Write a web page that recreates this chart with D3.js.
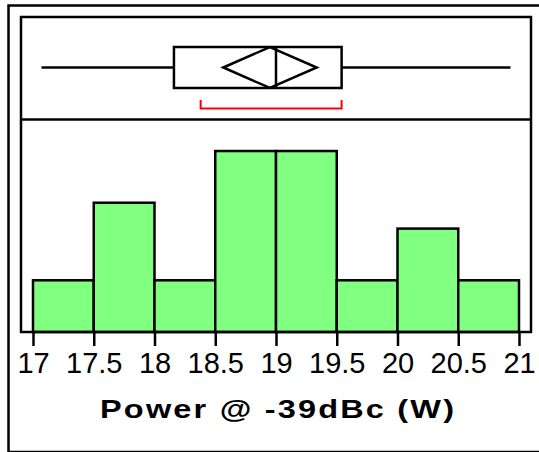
<!DOCTYPE html>
<html>
<head>
<meta charset="utf-8">
<script src="https://cdn.jsdelivr.net/npm/d3@7"></script>
<style>
  html, body { margin: 0; padding: 0; background: #fff; }
  svg { display: block; }
  text { font-family: "Liberation Sans", Arial, sans-serif; fill: #000; }
</style>
</head>
<body>
<svg id="chart" width="539" height="452"></svg>
<script>
// ---- data ----
const binEdges = [17, 17.5, 18, 18.5, 19, 19.5, 20, 20.5, 21];
const counts = [2, 5, 2, 7, 7, 2, 4, 2];
const tickValues = [17, 17.5, 18, 18.5, 19, 19.5, 20, 20.5, 21];
const tickLabels = ["17", "17.5", "18", "18.5", "19", "19.5", "20", "20.5", "21"];
const whiskerRange = [17.07, 20.93];
const quartiles = [18.16, 19.0, 19.54]; // Q1, median, Q3
const meanValue = [18.95];
const meanCI = [18.566, 19.335];
const shortestHalf = [18.38, 19.54];
const xTitle = "Power @ -39dBc (W)";

// ---- layout ----
const svg = d3.select("#chart");
const frame = { left: 21, top: 17, right: 531, bottom: 332, divider: 119.5 };

const x = d3.scaleLinear().domain([17, 21]).range([33, 519]);
const y = d3.scaleLinear().domain([0, 8.2]).range([332, 120]);
const yBox = d3.scaleLinear().domain([0, 1]).range([88, 47]); // box band

// outer frame
svg.append("rect")
  .attr("x", 8.5).attr("y", 5.5)
  .attr("width", 560).attr("height", 446.5)
  .attr("fill", "none").attr("stroke", "#000").attr("stroke-width", 2.5);

// histogram bars
const bins = counts.map((c, i) => ({ x0: binEdges[i], x1: binEdges[i + 1], c }));
svg.append("g").selectAll("rect").data(bins).join("rect")
  .attr("x", d => x(d.x0))
  .attr("y", d => y(d.c))
  .attr("width", d => x(d.x1) - x(d.x0))
  .attr("height", d => y(0) - y(d.c))
  .attr("fill", "#80ff80")
  .attr("stroke", "#000")
  .attr("stroke-width", 2.5);

// inner frame
svg.append("rect")
  .attr("x", frame.left).attr("y", frame.top)
  .attr("width", frame.right - frame.left).attr("height", frame.bottom - frame.top)
  .attr("fill", "none").attr("stroke", "#000").attr("stroke-width", 2.5);
svg.append("line")
  .attr("x1", frame.left).attr("x2", frame.right)
  .attr("y1", frame.divider).attr("y2", frame.divider)
  .attr("stroke", "#000").attr("stroke-width", 2.5);

// x axis
const axis = d3.axisBottom(x)
  .tickValues(tickValues)
  .tickFormat((d, i) => tickLabels[i])
  .tickSize(14)
  .tickSizeOuter(0)
  .tickPadding(6);
const gx = svg.append("g").attr("transform", `translate(0,${frame.bottom})`).call(axis);
gx.select(".domain").remove();
gx.selectAll(".tick line").attr("stroke", "#000").attr("stroke-width", 2.5);
gx.selectAll(".tick text")
  .attr("font-size", 29)
  .attr("font-family", "Liberation Sans, Arial, sans-serif")
  .attr("fill", "#000");

// axis title (horizontally stretched bold face)
const stretch = 1.3;
svg.append("g")
  .attr("transform", `translate(277,418) scale(${stretch},1)`)
  .append("text")
  .attr("x", 0).attr("y", 0)
  .attr("text-anchor", "middle")
  .attr("font-size", 25)
  .attr("font-weight", "bold")
  .attr("textLength", 354 / stretch)
  .attr("lengthAdjust", "spacing")
  .text(xTitle);

// ---- box plot ----
const bp = svg.append("g").attr("stroke", "#000").attr("stroke-width", 2.5).attr("fill", "none");
const midY = yBox(0.5);
// whiskers
bp.append("line").attr("x1", x(whiskerRange[0])).attr("x2", x(quartiles[0])).attr("y1", midY).attr("y2", midY);
bp.append("line").attr("x1", x(quartiles[2])).attr("x2", x(whiskerRange[1])).attr("y1", midY).attr("y2", midY);
// box
bp.append("rect")
  .attr("x", x(quartiles[0])).attr("y", yBox(1))
  .attr("width", x(quartiles[2]) - x(quartiles[0]))
  .attr("height", yBox(0) - yBox(1));
// median
bp.append("line").attr("x1", x(quartiles[1])).attr("x2", x(quartiles[1])).attr("y1", yBox(1)).attr("y2", yBox(0));
// mean diamond
const diamond = [
  [x(meanCI[0]), midY],
  [x(meanValue[0]), yBox(1)],
  [x(meanCI[1]), midY],
  [x(meanValue[0]), yBox(0)]
];
bp.append("path").attr("d", d3.line()(diamond) + "Z").attr("stroke-linejoin", "miter");

// shortest half bracket (red)
const shY = 108.5;
const sh = svg.append("g").attr("stroke", "#ff0000").attr("stroke-width", 2).attr("fill", "none");
sh.append("path").attr("d", d3.line()([
  [x(shortestHalf[0]), shY - 8.5],
  [x(shortestHalf[0]), shY],
  [x(shortestHalf[1]), shY],
  [x(shortestHalf[1]), shY - 8.5]
]));
</script>
</body>
</html>
